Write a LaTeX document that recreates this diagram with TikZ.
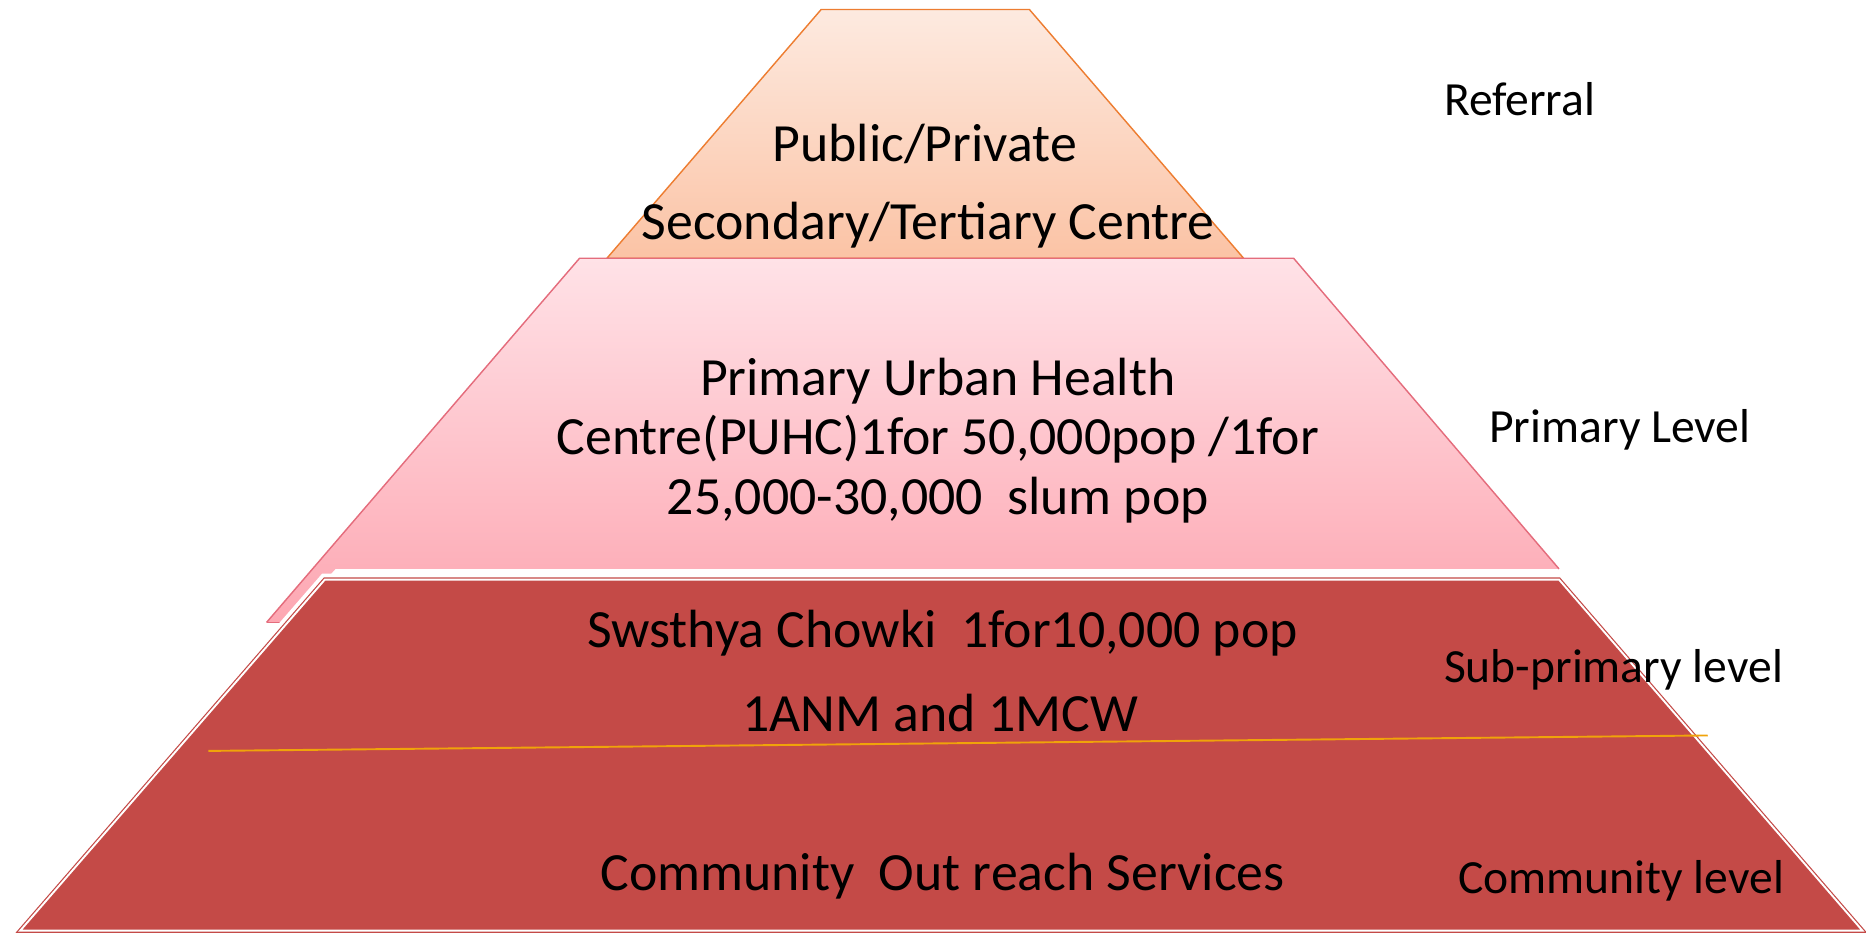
\documentclass[tikz,border=0pt]{standalone}
\usepackage{fontspec}
\setmainfont{Carlito}
\definecolor{peachT}{HTML}{FDEAE0}
\definecolor{peachB}{HTML}{FBC3A5}
\definecolor{orangeB}{HTML}{ED7D31}
\definecolor{pinkT}{HTML}{FFE2E7}
\definecolor{pinkBot}{HTML}{FDA7B2}
\definecolor{pinkB}{HTML}{E46C7C}
\definecolor{redF}{HTML}{C44A47}
\definecolor{yel}{HTML}{F0A30A}
\begin{document}
\begin{tikzpicture}[x=0.5pt,y=-0.5pt,
  maintext/.style={font=\fontsize{22.6}{25}\selectfont, align=center, inner sep=0pt},
  sidetext/.style={font=\fontsize{20}{22}\selectfont, anchor=west, inner sep=0pt}]
\useasboundingbox (0,0) rectangle (1568,786);
% top tier
\path[top color=peachT, bottom color=peachB] (690,8) -- (865,8) -- (1045,217) -- (510,217) -- cycle;
\draw[orangeB, line width=0.6pt, line join=round] (690,8) -- (865,8) -- (1045,217) -- (510,217) -- cycle;
% middle tier
\path[top color=pinkT, bottom color=pinkBot] (487,217) -- (1087,217) -- (1310,478) -- (282,478) -- (241,523) -- (224,523) -- cycle;
\draw[pinkB, line width=0.6pt, line join=round] (224,523) -- (487,217) -- (1087,217) -- (1310,478);
\draw[pinkB, line width=0.6pt] (224,523) -- (240,523);
% bottom tier
\draw[white, line width=5pt, line join=miter] (273,487) -- (1310,487) -- (1565,782) -- (17,782) -- cycle;
\fill[redF] (273,487) -- (1310,487) -- (1565,782) -- (17,782) -- cycle;
\draw[redF, line width=0.5pt, double=white, double distance=0.8pt] (273,487) -- (1310,487) -- (1565,782) -- (17,782) -- cycle;
% divider line
\coordinate (la) at (175,631);
\coordinate (lb) at (1435,618);
\draw[yel, line width=0.8pt] (la) -- (lb);
% texts
\node[maintext] (t1) at (777,121) {Public/Private};
\node[maintext] (t2) at (780,189) {Secondary/Tertiary Centre};
\node[maintext] (t3) at (788,370) {Primary Urban Health\\Centre(PUHC)1for 50,000pop /1for\\25,000-30,000\ \ slum pop};
\node[maintext] (t4) at (792,532) {Swsthya Chowki\ \ 1for10,000 pop};
\node[maintext] (t5) at (790,599) {1ANM and 1MCW};
\node[maintext] (t6) at (792,736) {Community\ \ Out reach Services};
\node[sidetext] (s1) at (1213,83) {Referral};
\node[sidetext] (s2) at (1251,361) {Primary Level};
\node[sidetext] (s3) at (1213,563) {Sub-primary level};
\node[sidetext] (s4) at (1225,740) {Community level};
\end{tikzpicture}
\end{document}
